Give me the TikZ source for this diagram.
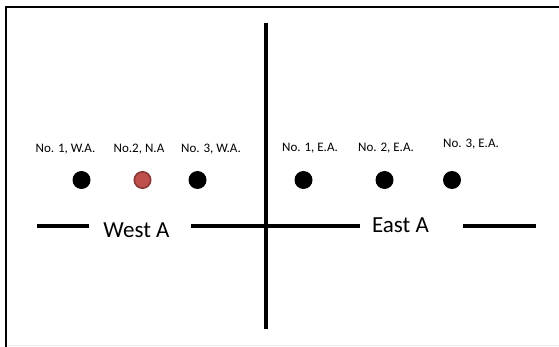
\documentclass[tikz,border=0pt]{standalone}
\usepackage{fontspec}
\setmainfont{Carlito}
\usetikzlibrary{positioning}
\definecolor{ink}{HTML}{000000}
\definecolor{brick}{HTML}{C0504D}
\definecolor{brickedge}{HTML}{8C3836}
\definecolor{haze}{HTML}{EDEDED}
\tikzset{
  %% nodes
  well/.style     = {circle, fill=ink, inner sep=0pt, minimum size=18pt},
  redwell/.style  = {circle, fill=brick, draw=brickedge, line width=1.6pt,
                     inner sep=0pt, minimum size=16.4pt},
  tag/.style      = {font=\fontsize{13}{15}\selectfont, text=ink,
                     inner sep=0pt, anchor=base},
  zone/.style     = {font=\fontsize{23}{27}\selectfont, text=ink,
                     inner sep=0pt, anchor=base},
  %% lines
  divider/.style  = {draw=ink, line width=3.2pt},
  edgeline/.style = {draw=ink, line width=2.6pt, line join=miter},
}
\begin{document}
\begin{tikzpicture}[x=1pt, y=-1pt]
\useasboundingbox (0,0) rectangle (559,347);

%% ---- frame (open on the right) ----
\coordinate (fbl) at (6,347);
\coordinate (ftl) at (6,7);
\coordinate (ftr) at (559,7);
\draw[edgeline] (fbl) -- (ftl) -- (ftr);
\coordinate (gbl) at (8,345.5);
\coordinate (gbr) at (559,345.5);
\draw[haze, line width=1pt] (gbl) -- (gbr);

%% ---- cross ----
\coordinate (vtop) at (266,23);
\coordinate (vbot) at (266,329);
\draw[divider] (vtop) -- (vbot);

\node[zone] (westA) at (136.5,238) {West A};
\node[zone] (eastA) at (400.5,233) {East A};

\coordinate (h1a) at (37,226);  \coordinate (h1b) at (89,226);
\coordinate (h2a) at (191,226); \coordinate (h2b) at (360,226);
\coordinate (h3a) at (463,226); \coordinate (h3b) at (536,226);
\draw[divider] (h1a) -- (h1b);
\draw[divider] (h2a) -- (h2b);
\draw[divider] (h3a) -- (h3b);

%% ---- west wells ----
\node[tag] (w1lbl) at (65.5,152.5) {No. 1, W.A.};
\node[tag] (n2lbl) at (139,152.5)  {No.2, N.A};
\node[tag] (w3lbl) at (211,152.5)  {No. 3, W.A.};
\node[well]    (w1) at (81.5,180)  {};
\node[redwell] (n2) at (142.5,180) {};
\node[well]    (w3) at (197.5,180) {};

%% ---- east wells ----
\node[tag] (e1lbl) at (310,151.5) {No. 1, E.A.};
\node[tag] (e2lbl) at (386,151.5) {No. 2, E.A.};
\node[tag] (e3lbl) at (471,148)   {No. 3, E.A.};
\node[well] (e1) at (303.5,180) {};
\node[well] (e2) at (384.5,180) {};
\node[well] (e3) at (452,180)   {};
\end{tikzpicture}
\end{document}
